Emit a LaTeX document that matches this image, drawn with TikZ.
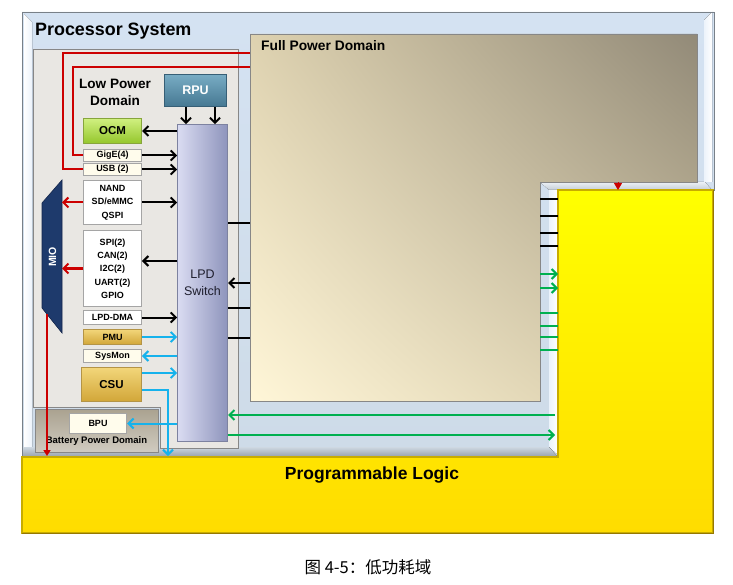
\documentclass[tikz,border=0pt]{standalone}
\usepackage{fontspec}
\setmainfont{Liberation Sans}
\newfontfamily\cjkfont{Noto Sans CJK SC}
\usetikzlibrary{arrows.meta,shadings}

\definecolor{psTop}{RGB}{212,226,242}
\definecolor{psMid}{RGB}{236,243,251}
\definecolor{psBot}{RGB}{206,219,232}
\definecolor{psEdge}{RGB}{120,128,136}
\definecolor{bevLight}{RGB}{236,241,246}
\definecolor{bevDark}{RGB}{196,205,214}
\definecolor{bevBotTop}{RGB}{206,216,226}
\definecolor{bevBotBot}{RGB}{150,160,170}
\definecolor{lpdFill}{RGB}{233,231,227}
\definecolor{domEdge}{RGB}{135,135,135}
\definecolor{fpdUL}{RGB}{222,210,176}
\definecolor{fpdUR}{RGB}{146,138,120}
\definecolor{fpdLL}{RGB}{255,246,216}
\definecolor{fpdLR}{RGB}{212,200,166}
\definecolor{bpdTop}{RGB}{170,162,144}
\definecolor{bpdBot}{RGB}{208,203,192}
\definecolor{plTop}{RGB}{255,255,0}
\definecolor{plBot}{RGB}{255,220,0}
\definecolor{plEdge}{RGB}{200,172,0}
\definecolor{plShadow}{RGB}{150,120,0}
\definecolor{swLeft}{RGB}{218,220,242}
\definecolor{swRight}{RGB}{142,148,188}
\definecolor{swEdge}{RGB}{125,130,160}
\definecolor{swText}{RGB}{30,30,45}
\definecolor{rpuTop}{RGB}{120,172,196}
\definecolor{rpuBot}{RGB}{70,120,146}
\definecolor{rpuEdge}{RGB}{55,95,118}
\definecolor{ocmTop}{RGB}{208,240,128}
\definecolor{ocmBot}{RGB}{148,198,44}
\definecolor{ocmEdge}{RGB}{135,165,60}
\definecolor{goldTop}{RGB}{242,214,122}
\definecolor{goldBot}{RGB}{210,166,56}
\definecolor{goldEdge}{RGB}{180,148,70}
\definecolor{cream}{RGB}{255,252,236}
\definecolor{boxEdge}{RGB}{165,165,165}
\definecolor{mioBlue}{RGB}{30,58,108}
\definecolor{mioEdge}{RGB}{20,38,75}
\definecolor{sigRed}{RGB}{204,0,0}
\definecolor{sigBlue}{RGB}{22,178,236}
\definecolor{sigGreen}{RGB}{0,176,80}

\begin{document}
\begin{tikzpicture}[x=1pt,y=-1pt,
  lbl/.style={font=\bfseries\fontsize{9}{13.3}\selectfont, align=center, inner sep=0pt, text=black},
  wbox/.style={lbl, draw=boxEdge, line width=1.4pt, fill=white, minimum width=57.5pt},
  cbox/.style={wbox, fill=cream},
  goldbox/.style={lbl, draw=goldEdge, line width=1pt,
                  top color=goldTop, bottom color=goldBot, minimum width=58pt},
  title/.style={font=\bfseries, inner sep=0pt, text=black},
  sig/.style={line width=2pt},
  blk/.style={sig, black},
  red/.style={sig, sigRed},
  blu/.style={sig, sigBlue},
  grn/.style={sig, sigGreen},
  tip/.style={-{Straight Barb[length=5pt,width=10pt]}},
  tipl/.style={{Straight Barb[length=5pt,width=10pt]}-},
]
\useasboundingbox (0,0) rectangle (733,585);
\fill[white] (0,0) rectangle (733,585);

% ---------- Processor System panel (notched for the PL) ----------
\shade[top color=psTop, middle color=psMid, bottom color=psBot]
  (22,12) -- (714,12) -- (714,190) -- (558,190) -- (558,457) -- (22,457) -- cycle;
% bevel strips
\fill[left color=white, right color=psMid] (24,14) -- (32,22) -- (32,447) -- (24,455) -- cycle;
\fill[top color=bevLight, bottom color=bevDark]
  (540,182) -- (705,182) -- (712,190) -- (558,190) -- (549,190) -- cycle;
\fill[left color=psMid, right color=white] (549,190) -- (558,190) -- (558,455) -- (549,447) -- cycle;
\fill[right color=white, left color=psMid] (704,20) -- (712,12) -- (712,182) -- (704,182) -- cycle;
\fill[top color=bevBotTop, bottom color=bevBotBot]
  (22,447) -- (549,447) -- (558,457) -- (22,457) -- cycle;
\draw[psEdge, line width=0.8pt]
  (22,12) -- (714,12) -- (714,190) -- (558,190) -- (558,457) -- (22,457) -- cycle;
\node[title, anchor=base west, font=\bfseries\fontsize{17.9}{20}\selectfont] (pstitle) at (35,36) {Processor System};

% ---------- Full Power Domain ----------
\shade[upper left=fpdUL, upper right=fpdUR, lower left=fpdLL, lower right=fpdLR]
  (250,34) -- (697,34) -- (697,182) -- (540,182) -- (540,401) -- (250,401) -- cycle;
\draw[domEdge, line width=0.7pt]
  (250,34) -- (697,34) -- (697,182) -- (540,182) -- (540,401) -- (250,401) -- cycle;
\node[title, anchor=base west, font=\bfseries\fontsize{13.8}{16}\selectfont] (fpdtitle) at (261,51) {Full Power Domain};

% ---------- Low Power Domain ----------
\fill[lpdFill] (33,49) -- (238,49) -- (238,448) -- (160,448) -- (160,407) -- (33,407) -- cycle;
\draw[domEdge, line width=0.7pt] (33,49) -- (238,49) -- (238,448) -- (160,448) -- (160,407) -- (33,407) -- cycle;
\node[title, align=center, font=\bfseries\fontsize{13.6}{17}\selectfont] (lpdtitle) at (115,92) {Low Power\\Domain};

% ---------- Battery Power Domain ----------
\shade[top color=bpdTop, bottom color=bpdBot] (35,409) rectangle (158,452);
\draw[domEdge, line width=0.7pt] (35,409) rectangle (158,452);
\node[title, font=\bfseries\fontsize{9.5}{10}\selectfont] (bpdtitle) at (96.5,441.5) {Battery Power Domain};

% ---------- Programmable Logic ----------
\shade[top color=plTop, bottom color=plBot]
  (22,457) -- (558,457) -- (558,190) -- (713,190) -- (713,533) -- (22,533) -- cycle;
\draw[plEdge, line width=1.2pt]
  (22,457) -- (558,457) -- (558,190) -- (713,190) -- (713,533) -- (22,533) -- cycle;
\draw[plShadow, line width=0.8pt] (22,533) -- (713,533) -- (713,190);
\node[title, font=\bfseries\fontsize{17.5}{20}\selectfont] (pltitle) at (372,475) {Programmable Logic};

% ---------- blocks ----------
\node[lbl, draw=rpuEdge, line width=1pt, top color=rpuTop, bottom color=rpuBot,
      minimum width=62pt, minimum height=32pt, text=white, font=\bfseries\fontsize{12.5}{14}\selectfont]
      (rpu) at (195.5,90.5) {RPU};
\node[lbl, draw=swEdge, line width=0.8pt, left color=swLeft, right color=swRight,
      minimum width=50pt, minimum height=317pt, font=\fontsize{12.5}{16.5}\selectfont, text=swText]
      (sw) at (202.5,283) {LPD\\Switch};
\node[lbl, draw=ocmEdge, line width=1pt, top color=ocmTop, bottom color=ocmBot,
      minimum width=58pt, minimum height=25pt, font=\bfseries\fontsize{11.5}{13}\selectfont]
      (ocm) at (112.5,131) {OCM};
\node[cbox, minimum height=12pt] (gige) at (112.5,155.5) {GigE(4)};
\node[cbox, minimum height=12pt] (usb) at (112.5,169.5) {USB (2)};
\node[wbox, minimum height=44pt] (nand) at (112.5,202.5) {NAND\\SD/eMMC\\QSPI};
\node[wbox, minimum height=76pt] (spi) at (112.5,268.5) {SPI(2)\\CAN(2)\\I2C(2)\\UART(2)\\GPIO};
\node[wbox, minimum height=14pt] (dma) at (112.5,317.5) {LPD-DMA};
\node[goldbox, minimum height=15pt] (pmu) at (112.5,337) {PMU};
\node[cbox, minimum height=13pt] (sysmon) at (112.5,356) {SysMon};
\node[goldbox, minimum width=60pt, minimum height=34pt, font=\bfseries\fontsize{11.5}{13}\selectfont] (csu) at (111.5,384.5) {CSU};
\node[cbox, minimum width=57pt, minimum height=20pt] (bpu) at (98,423.5) {BPU};

% MIO trapezoid
\fill[mioBlue] (42,203) -- (62,180) -- (62,333) -- (42,308) -- cycle;
\draw[mioEdge, line width=0.6pt] (42,203) -- (62,180) -- (62,333) -- (42,308) -- cycle;
\node[lbl, rotate=90, text=white, font=\bfseries\fontsize{10.5}{11}\selectfont] (mio) at (52.5,257) {MIO};

% ---------- anchor points on the domain outlines ----------
\coordinate (fpdW) at (250,0);
\coordinate (fpdE) at (540,0);
\coordinate (plW) at (558,0);
\coordinate (plWa) at (555,0);
\coordinate (swE) at (228,0);
\coordinate (mioE) at (62,0);
\coordinate (mioFoot) at (47,314);
\coordinate (plTopEdge) at (0,456);
\coordinate (fpdS) at (618,182);
\coordinate (plN) at (618,190);
\coordinate (csuDrop) at (168,390);

% ---------- connectors ----------
% RPU into the switch
\draw[blk, tip] ([xshift=-9.5pt]rpu.south) -- ([xshift=-9.5pt]rpu.south |- sw.north);
\draw[blk, tip] ([xshift=19.5pt]rpu.south) -- ([xshift=19.5pt]rpu.south |- sw.north);
% LPD peripherals
\draw[blk, tip] (ocm.east -| sw.west) -- (ocm.east);
\draw[blk, tip] (gige.east) -- (gige.east -| sw.west);
\draw[blk, tip] (usb.east) -- (usb.east -| sw.west);
\draw[blk, tip] (nand.east) -- (nand.east -| sw.west);
\draw[blk, tip] (sw.west |- 0,261) -- (spi.east |- 0,261);
\draw[blk, tip] (dma.east) -- (dma.east -| sw.west);
\draw[blu, tip] (pmu.east) -- (pmu.east -| sw.west);
\draw[blu, tip] (sysmon.east -| sw.west) -- (sysmon.east);
\draw[blu, tip] (csu.east |- 0,373) -- (sw.west |- 0,373);
\draw[blu, tip] (csu.east |- csuDrop) -- (csuDrop) -- (csuDrop |- plTopEdge);
\draw[blu, tip] (sw.west |- bpu.east) -- (bpu.east);
% MIO
\draw[red, tip] (nand.west) -- (nand.west -| mioE);
\draw[red, tip] (spi.west) -- (spi.west -| mioE);
\draw[sig, sigRed, -{Triangle[length=6pt,width=7pt]}] (mioFoot) -- (mioFoot |- plTopEdge);
% FPD to GigE / USB
\draw[red] (fpdW |- 0,53) -| (63,169.5) -- (usb.west);
\draw[red] (fpdW |- 0,67) -| (73,155.5) -- (gige.west);
% switch to FPD
\draw[blk] (swE |- 0,223) -- (fpdW |- 0,223);
\draw[blk, tipl] (swE |- 0,283) -- (fpdW |- 0,283);
\draw[blk] (swE |- 0,308) -- (fpdW |- 0,308);
\draw[blk] (swE |- 0,338) -- (fpdW |- 0,338);
% FPD to PL
\draw[line width=1pt, sigRed, -{Triangle[length=7pt,width=8pt]}] (fpdS) -- (plN);
\foreach \yy in {199,216,233,246} \draw[blk] (fpdE |- 0,\yy) -- (plW |- 0,\yy);
\foreach \yy in {274,288} \draw[grn, tip] (fpdE |- 0,\yy) -- (plW |- 0,\yy);
\foreach \yy in {313,326,337,350} \draw[grn] (fpdE |- 0,\yy) -- (plW |- 0,\yy);
% PL to switch
\draw[grn, tip] (plWa |- 0,415) -- (swE |- 0,415);
\draw[grn, tip] (swE |- 0,435) -- (plWa |- 0,435);

% ---------- caption ----------
\node[inner sep=0pt, font=\cjkfont\fontsize{16.5}{18}\selectfont] (caption) at (368,567) {图 4-5：低功耗域};
\end{tikzpicture}
\end{document}
